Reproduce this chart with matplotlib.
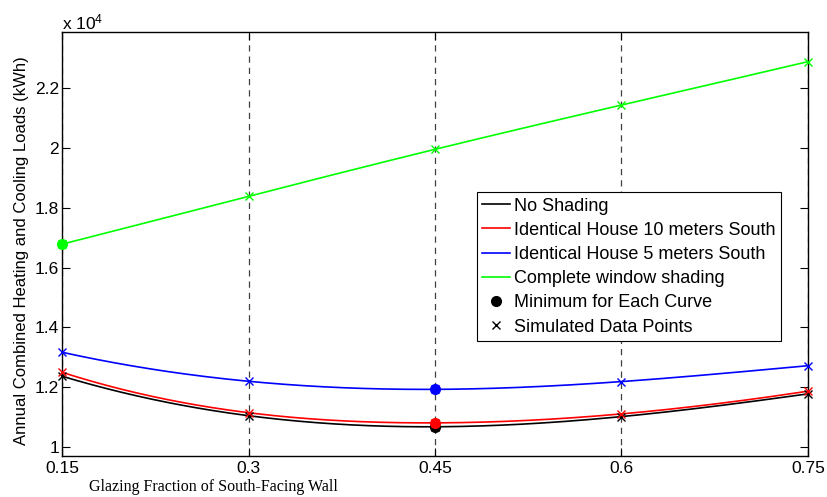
import numpy as np
import matplotlib
matplotlib.use('Agg')
from matplotlib import pyplot as plt
from matplotlib.lines import Line2D
from matplotlib.ticker import FuncFormatter

# glazing fraction of the south wall
glazing = [0.15, 0.30, 0.45, 0.60, 0.75]

# annual heating + cooling loads (kWh)
no_shading = [12370, 11050, 10680, 11020, 11780]
house_10m = [12500, 11150, 10810, 11110, 11870]
house_5m = [13170, 12200, 11930, 12190, 12720]
full_shade = [16780, 18380, 19950, 21430, 22880]

labels = ['No Shading', 'Identical House 10 meters South',
          'Identical House 5 meters South', 'Complete window shading']
colors = ['k', 'r', 'b', '#00ff00']
series = [no_shading, house_10m, house_5m, full_shade]

xticks = [0.15, 0.3, 0.45, 0.6, 0.75]
yticks = [1.0, 1.2, 1.4, 1.6, 1.8, 2.0, 2.2]


def smooth(xs, ys, n=300):
    # cubic spline with one interior knot (not-a-knot for 5 points)
    xs = np.asarray(xs, float)
    ys = np.asarray(ys, float)
    k = xs[2]
    def basis(x):
        return np.column_stack([np.ones_like(x), x, x**2, x**3,
                                np.clip(x - k, 0, None)**3])
    c = np.linalg.solve(basis(xs), ys)
    xx = np.linspace(xs[0], xs[-1], n)
    return xx, basis(xx) @ c


plt.rcParams['font.family'] = 'Liberation Sans'
plt.rcParams['mathtext.default'] = 'regular'
fs = 12.5

fig = plt.figure(figsize=(8.28, 4.97), dpi=100)
ax = fig.add_axes([0.0749, 0.0835, 0.9009, 0.8521])

for vals, col in zip(series, colors):
    y = np.array(vals) / 1e4
    xx, yy = smooth(glazing, y)
    ax.plot(xx, yy, color=col, lw=1.2, zorder=3)
    ax.plot(glazing, y, 'x', color=col, ms=6, mew=1, zorder=4, clip_on=False)
    i = int(np.argmin(y))
    ax.plot(glazing[i], y[i], 'o', color=col, ms=7, zorder=5, clip_on=False)

ax.set_xlim(0.15, 0.75)
ax.set_ylim(0.972, 2.387)
ax.set_xticks(xticks)
ax.set_yticks(yticks)
ax.xaxis.set_major_formatter(FuncFormatter(lambda v, p: '%g' % round(v, 2)))
ax.yaxis.set_major_formatter(FuncFormatter(lambda v, p: '%g' % round(v, 2)))
ax.tick_params(direction='in', length=6, width=0.8, labelsize=fs,
               top=True, right=True)
ax.tick_params(axis='x', pad=4)
ax.tick_params(axis='y', pad=2)
for s in ax.spines.values():
    s.set_linewidth(1.0)

ax.grid(axis='x', ls=(0, (5, 4)), color='0.25', lw=0.9)
ax.set_axisbelow(True)

handles = [Line2D([], [], color=c, lw=1.2) for c in colors]
handles.append(Line2D([], [], ls='none', marker='o', color='k', ms=7))
handles.append(Line2D([], [], ls='none', marker='x', color='k', ms=6, mew=1))
leg = ax.legend(handles, labels + ['Minimum for Each Curve', 'Simulated Data Points'],
                loc='upper left', bbox_to_anchor=(0.556, 0.622), borderaxespad=0,
                fontsize=13, fancybox=False, framealpha=1, edgecolor='k',
                handlelength=1.55, handletextpad=0.22, labelspacing=0.4,
                borderpad=0.3)
leg.get_frame().set_linewidth(0.8)

fig.text(62 / 828, 1 - 29 / 497, r'x 10$^{4}$', fontsize=fs, ha='left', va='baseline')
fig.text(22 / 828, 1 - 251 / 497, 'Annual Combined Heating and Cooling Loads (kWh)',
         rotation=90, fontsize=12, ha='center', va='center')
fig.text(213 / 828, 1 - 487 / 497, 'Glazing Fraction of South-Facing Wall',
         family='Liberation Serif', fontsize=11.5, ha='center', va='center')

fig.savefig('out.png', dpi=100)
